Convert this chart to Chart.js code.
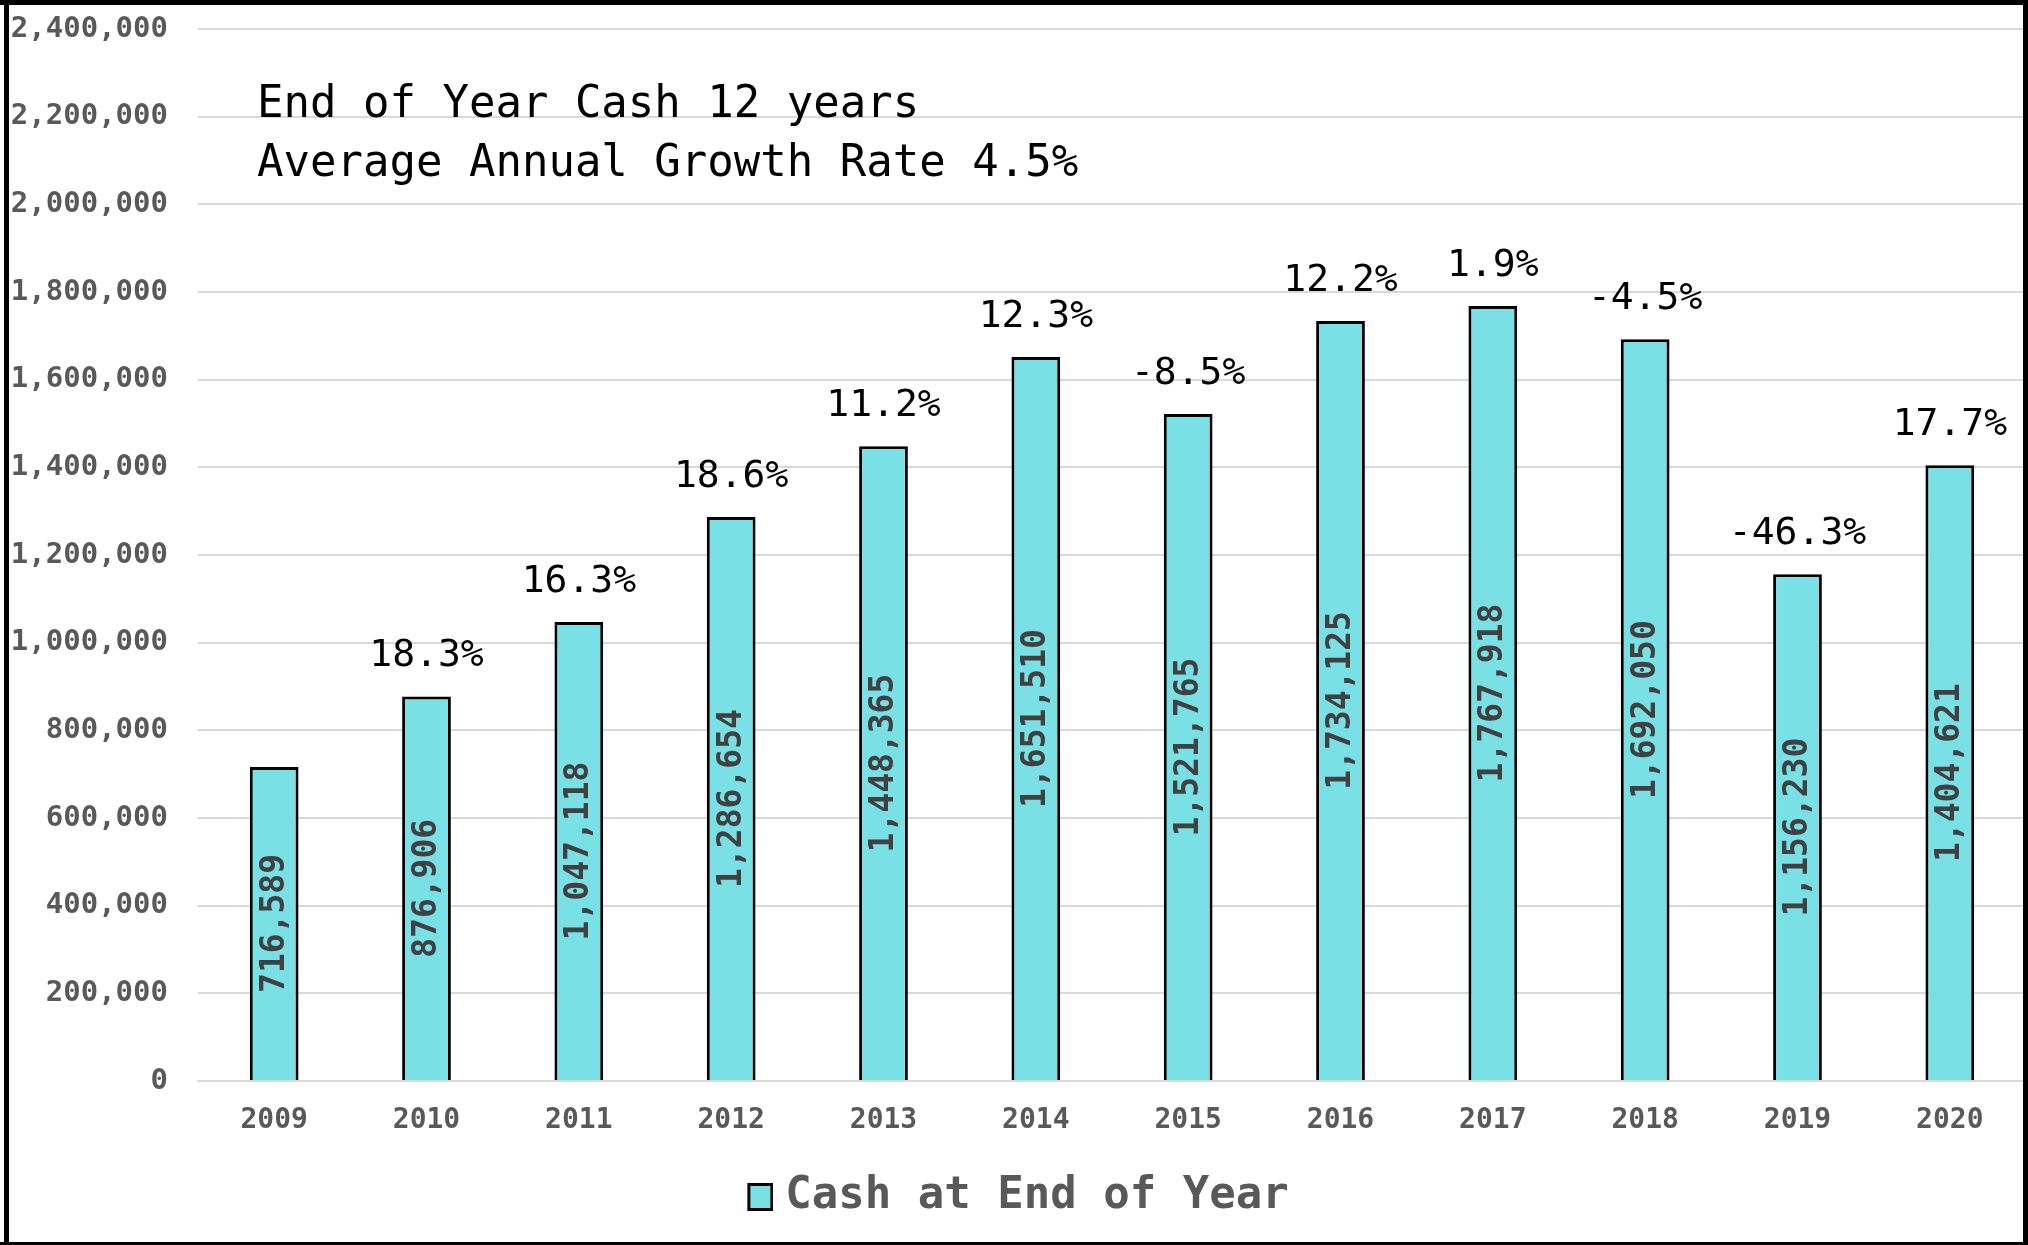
<!DOCTYPE html>
<html>
<head>
<meta charset="utf-8">
<script src="https://cdn.jsdelivr.net/npm/chart.js@4"></script>
<style>
  html, body { margin: 0; padding: 0; background: #fff; }
  #wrap { width: 2028px; height: 1245px; position: relative; }
</style>
</head>
<body>
<div id="wrap"><canvas id="cashChart"></canvas></div>
<script>
// data
const years = ['2009', '2010', '2011', '2012', '2013', '2014', '2015', '2016', '2017', '2018', '2019', '2020'];
const cashEndOfYear = [716589, 876906, 1047118, 1286654, 1448365, 1651510, 1521765, 1734125, 1767918, 1692050, 1156230, 1404621];
const growthLabels = ['', '18.3%', '16.3%', '18.6%', '11.2%', '12.3%', '-8.5%', '12.2%', '1.9%', '-4.5%', '-46.3%', '17.7%'];
const titleLines = ['End of Year Cash 12 years', 'Average Annual Growth Rate 4.5%'];

const MONO = '"DejaVu Sans Mono", "Liberation Mono", monospace';
const GREY = '#595959';
const BAR_FILL = '#79E0E5';

// legend swatch: box sits on the right of a wider image so it ends up closer to the text
const swatch = document.createElement('canvas');
swatch.width = 46;
swatch.height = 28;
(() => {
    const c = swatch.getContext('2d');
    c.fillStyle = BAR_FILL;
    c.fillRect(21.5, 1.5, 23, 25);
    c.strokeStyle = '#000';
    c.lineWidth = 3;
    c.strokeRect(21.5, 1.5, 23, 25);
})();

// labels on/above bars, the note text and the outer frame
const decorPlugin = {
    id: 'decor',
    afterDatasetsDraw(chart) {
        const ctx = chart.ctx;
        const meta = chart.getDatasetMeta(0);
        meta.data.forEach((bar, i) => {
            // value, rotated, in the middle of the bar
            ctx.save();
            ctx.translate(bar.x, (bar.y + bar.base) / 2);
            ctx.rotate(-Math.PI / 2);
            ctx.font = 'bold 33px ' + MONO;
            ctx.fillStyle = '#404040';
            ctx.textAlign = 'center';
            ctx.textBaseline = 'middle';
            ctx.fillText(cashEndOfYear[i].toLocaleString('en-US'), 0, 1);
            ctx.restore();

            // growth rate above the bar
            if (growthLabels[i]) {
                ctx.save();
                ctx.font = '38px ' + MONO;
                ctx.fillStyle = '#000';
                ctx.textAlign = 'center';
                ctx.textBaseline = 'middle';
                ctx.fillText(growthLabels[i], bar.x, bar.y - 40);
                ctx.restore();
            }
        });

        // note in the top-left of the plot
        const area = chart.chartArea;
        ctx.save();
        ctx.font = '44px ' + MONO;
        ctx.fillStyle = '#000';
        ctx.textAlign = 'left';
        ctx.textBaseline = 'middle';
        titleLines.forEach((line, k) => ctx.fillText(line, area.left + 59, area.top + 77 + k * 59));
        ctx.restore();
    },
    afterDraw(chart) {
        const ctx = chart.ctx;
        ctx.save();
        ctx.fillStyle = '#000';
        ctx.fillRect(4, 0, 5, 1245);
        ctx.fillRect(0, 0, 2028, 5);
        ctx.fillRect(2023, 0, 5, 1245);
        ctx.fillRect(0, 1242, 2028, 3);
        ctx.restore();
    }
};

new Chart(document.getElementById('cashChart'), {
    type: 'bar',
    data: {
        labels: years,
        datasets: [{
            label: 'Cash at End of Year',
            data: cashEndOfYear,
            backgroundColor: BAR_FILL,
            borderColor: '#000',
            borderWidth: 3,
            barPercentage: 0.32,
            categoryPercentage: 1,
            pointStyle: swatch
        }]
    },
    options: {
        responsive: true,
        maintainAspectRatio: false,
        animation: false,
        layout: { padding: { top: 29, right: 2, left: 0, bottom: 16 } },
        scales: {
            x: {
                grid: { display: false, drawTicks: false },
                border: { color: '#d9d9d9', width: 2 },
                ticks: { color: GREY, font: { family: MONO, size: 28, weight: 'bold' }, padding: 23, maxRotation: 0 },
                afterFit: (scale) => { scale.height = 74; }
            },
            y: {
                min: 0,
                max: 2400000,
                ticks: {
                    stepSize: 200000,
                    color: GREY,
                    padding: 30,
                    font: { family: MONO, size: 29, weight: 'bold' },
                    callback: (v) => v.toLocaleString('en-US')
                },
                grid: { color: '#d9d9d9', lineWidth: 2, drawTicks: false },
                border: { display: false },
                afterFit: (scale) => {
                    scale.width = 198;
                    scale.paddingTop = 0;
                    scale.paddingBottom = 0;
                }
            }
        },
        plugins: {
            legend: {
                position: 'bottom',
                labels: {
                    color: GREY,
                    font: { family: MONO, size: 44, weight: 'bold' },
                    usePointStyle: true,
                    pointStyleWidth: 26,
                    boxHeight: 27,
                    padding: 20
                }
            },
            tooltip: { enabled: false }
        }
    },
    plugins: [decorPlugin]
});
</script>
</body>
</html>
